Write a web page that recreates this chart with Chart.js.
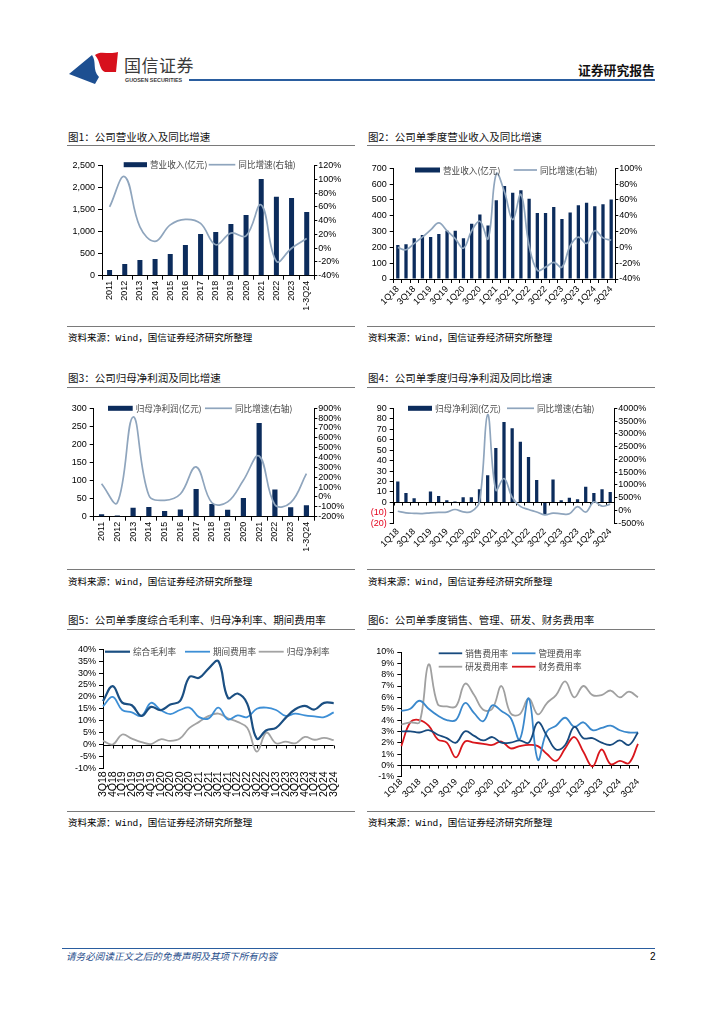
<!DOCTYPE html>
<html><head><meta charset="utf-8">
<script src="https://cdn.jsdelivr.net/npm/chart.js@4.4.1/dist/chart.umd.min.js"></script>
<style>
html,body{margin:0;padding:0;background:#fff;}
body{width:724px;height:1024px;position:relative;overflow:hidden;font-family:"Noto Sans CJK SC","Noto Sans",sans-serif;color:#000;}
.a{position:absolute;white-space:nowrap;}
.title{font-size:10.5px;line-height:14px;font-weight:400;color:#111;}
.src{font-size:9.5px;line-height:12px;}
.mono{font-family:"Liberation Mono","DejaVu Sans Mono",monospace;font-size:9.5px;}
.rule{position:absolute;height:1px;background:#7a7a7a;}
canvas{position:absolute;}
</style></head><body>

<!-- header -->
<svg class="a" style="left:66px;top:48px" width="60" height="40" viewBox="66 48 60 40">
  <path d="M69,74 L92,55 C97,62 92,70 99,77 L95,84 Z" fill="#1d4f91"/>
  <path d="M95,55 C101,50 108,55 118,52 L116,72 L105,72 C99,70 101,62 95,55 Z" fill="#d7101c"/>
</svg>
<div class="a" style="left:124px;top:54px;font-size:17px;line-height:22px;color:#3a3a3a;letter-spacing:0.5px;">国信证券</div>
<div class="a" style="left:125px;top:76.5px;font-size:5.4px;line-height:7px;color:#3a3a3a;font-family:'Liberation Sans',Arial,sans-serif;font-weight:bold;">GUOSEN SECURITIES</div>
<div class="a" style="left:189px;top:79px;width:466px;height:2px;background:#2a5d9f;"></div>
<div class="a" style="left:578px;top:61px;font-size:12.8px;line-height:18px;font-weight:bold;color:#111;">证券研究报告</div>

<!-- titles & rules -->
<div class="a title" style="left:68px;top:129.5px;">图1：公司营业收入及同比增速</div>
<div class="a title" style="left:368px;top:129.5px;">图2：公司单季度营业收入及同比增速</div>
<div class="rule" style="left:67px;top:145px;width:288px;"></div>
<div class="rule" style="left:367px;top:145px;width:288px;"></div>
<div class="rule" style="left:67px;top:326px;width:288px;"></div>
<div class="rule" style="left:367px;top:326px;width:288px;"></div>
<div class="a src" style="left:68px;top:331px;">资料来源：<span class="mono">Wind</span>，国信证券经济研究所整理</div>
<div class="a src" style="left:368px;top:331px;">资料来源：<span class="mono">Wind</span>，国信证券经济研究所整理</div>

<div class="a title" style="left:68px;top:370.5px;">图3：公司归母净利润及同比增速</div>
<div class="a title" style="left:368px;top:370.5px;">图4：公司单季度归母净利润及同比增速</div>
<div class="rule" style="left:67px;top:387px;width:288px;"></div>
<div class="rule" style="left:367px;top:387px;width:288px;"></div>
<div class="rule" style="left:67px;top:568.5px;width:288px;"></div>
<div class="rule" style="left:367px;top:568.5px;width:288px;"></div>
<div class="a src" style="left:68px;top:574.5px;">资料来源：<span class="mono">Wind</span>，国信证券经济研究所整理</div>
<div class="a src" style="left:368px;top:574.5px;">资料来源：<span class="mono">Wind</span>，国信证券经济研究所整理</div>

<div class="a title" style="left:68px;top:613px;">图5：公司单季度综合毛利率、归母净利率、期间费用率</div>
<div class="a title" style="left:368px;top:613px;">图6：公司单季度销售、管理、研发、财务费用率</div>
<div class="rule" style="left:67px;top:629px;width:288px;"></div>
<div class="rule" style="left:367px;top:629px;width:288px;"></div>
<div class="rule" style="left:67px;top:811px;width:288px;"></div>
<div class="rule" style="left:367px;top:811px;width:288px;"></div>
<div class="a src" style="left:68px;top:816px;">资料来源：<span class="mono">Wind</span>，国信证券经济研究所整理</div>
<div class="a src" style="left:368px;top:816px;">资料来源：<span class="mono">Wind</span>，国信证券经济研究所整理</div>

<!-- charts -->
<canvas id="c1" width="298" height="170" style="left:62px;top:150px;width:298px;height:170px"></canvas>
<canvas id="c2" width="298" height="170" style="left:362px;top:150px;width:298px;height:170px"></canvas>
<canvas id="c3" width="298" height="170" style="left:62px;top:392px;width:298px;height:170px"></canvas>
<canvas id="c4" width="298" height="170" style="left:362px;top:392px;width:298px;height:170px"></canvas>
<canvas id="c5" width="298" height="172" style="left:62px;top:635px;width:298px;height:172px"></canvas>
<canvas id="c6" width="298" height="172" style="left:362px;top:635px;width:298px;height:172px"></canvas>

<!-- footer -->
<div class="a" style="left:62px;top:948px;width:593px;height:1px;background:#2a5d9f;"></div>
<div class="a" style="left:66px;top:950px;font-size:9.6px;line-height:13px;font-style:italic;color:#1f4e8c;">请务必阅读正文之后的免责声明及其项下所有内容</div>
<div class="a" style="left:650px;top:950px;font-size:10px;line-height:13px;font-family:'Liberation Sans',Arial,sans-serif;">2</div>

<script>
// ---------------- DATA ----------------
const years = ['2011','2012','2013','2014','2015','2016','2017','2018','2019','2020','2021','2022','2023','1-3Q24'];
const revenueAnnual = [128, 265, 356, 379, 492, 697, 947, 992, 1174, 1379, 2197, 1795, 1765, 1447];
const revenueAnnualYoY = [60, 104, 31, 10, 34, 42, 36, 5, 22, 18, 63, -19, 0, 14];

const quarters27 = ['1Q18','2Q18','3Q18','4Q18','1Q19','2Q19','3Q19','4Q19','1Q20','2Q20','3Q20','4Q20',
  '1Q21','2Q21','3Q21','4Q21','1Q22','2Q22','3Q22','4Q22','1Q23','2Q23','3Q23','4Q23','1Q24','2Q24','3Q24'];
const revenueQuarterly = [215, 220, 258, 278, 265, 285, 305, 305, 258, 350, 408, 338, 498, 588, 546, 561,
  507, 417, 417, 456, 379, 421, 466, 482, 460, 473, 503];
const revenueQuarterlyYoY = [0, -3, 5, 13, 22, 31, 21, 11, -1, 21, 33, 11, 93, 70, 35, 67,
  2, -29, -25, -19, -25, 2, 13, 5, 21, 12, 9];

const netProfitAnnual = [7, 3, 25, 27, 16, 20, 77, 35, 19, 52, 259, 75, 26, 32];
const netProfitAnnualYoY = [135, -58, 812, 17, -34, 30, 305, -58, -50, 170, 416, -78, -58, 237];

const netProfitQuarterly = [20, 9, 4, 0.3, 10.5, 6, 2, 0.8, 5, 5, 12.5, 26, 52, 77, 71, 58,
  43.5, 21.5, -12, 22, 2, 4.5, 3, 15, 9, 12.5, 10];
const netProfitQuarterlyYoY = [-30, -90, -110, -120, -90, -70, -60, 40, -50, -40, 350, 3750, 800, 1250, 520, 160,
  40, -60, -170, -100, -130, -130, 150, -60, 340, 170, 250];

const quarters25 = ['3Q18','4Q18','1Q19','2Q19','3Q19','4Q19','1Q20','2Q20','3Q20','4Q20','1Q21','2Q21','3Q21',
  '4Q21','1Q22','2Q22','3Q22','4Q22','1Q23','2Q23','3Q23','4Q23','1Q24','2Q24','3Q24'];
const grossMargin = [18.2, 24.5, 17.6, 16.5, 12, 15.8, 14.4, 16.8, 18.2, 28.4, 28, 32, 35,
  19.6, 21.4, 17.2, 2.5, 6, 7, 11.2, 14.8, 16.2, 14.7, 17.5, 17.4];
const expenseRatio = [16, 20, 14.5, 13.5, 12, 17.5, 14.5, 12.8, 14.5, 15.5, 11.5, 11, 15.5,
  10.5, 12.2, 11.5, 15, 15.5, 14.5, 12, 13, 12.2, 11.8, 11.5, 13.5];
const netMargin = [1.5, 0, 4.2, 2.5, 1, 0.2, 2.2, 1.5, 2.5, 7, 9.5, 12, 13,
  11, 9.5, 7, -3, 5, 0.5, 1.2, 0.5, 3.2, 2, 2.8, 1.8];

const sellingRatio = [3.0, 3.0, 2.9, 3.1, 2.7, 2.4, 2.0, 3.0, 2.6, 2.2, 2.5, 2.0, 2.0, 2.2, 2.0, 3.8,
  2.6, 1.4, 1.8, 3.4, 2.4, 2.4, 2.0, 1.8, 2.2, 1.8, 2.9];
const adminRatio = [4.8, 5.0, 5.7, 5.0, 4.4, 4.0, 4.0, 5.5, 4.6, 3.9, 5.3, 4.8, 4.2, 2.3, 5.9, 0.5,
  3.0, 3.5, 4.2, 3.4, 3.8, 3.1, 3.3, 3.5, 3.1, 2.9, 2.9];
const rdRatio = [3.6, 3.8, 3.8, 8.9, 5.4, 5.2, 5.2, 7.2, 6.2, 4.9, 5.0, 7.0, 4.6, 4.5, 5.9, 4.5,
  5.5, 6.2, 7.4, 6.0, 7.0, 6.2, 6.2, 6.6, 6.0, 6.5, 6.0];
const financeRatio = [1.7, 3.8, 4.0, 3.5, 2.3, 2.0, 0.7, 2.1, 2.0, 1.9, 1.8, 2.1, 1.5, 1.7, 1.8, 1.7,
  1.0, 0.4, 1.5, 2.5, 1.2, -0.1, 1.4, 0.1, 0.4, 0.2, 1.9];

// ---------------- STYLE ----------------
const BAR = '#0c2c5c';
const LINE = '#8fa5bd';
Chart.defaults.font.family = "'Liberation Sans', Arial, sans-serif";
Chart.defaults.font.size = 9;
Chart.defaults.color = '#000';
Chart.defaults.animation = false;
Chart.defaults.plugins.legend.display = false;
Chart.defaults.plugins.tooltip.enabled = false;
Chart.defaults.responsive = false;

const pct = v => v + '%';

const insideLegend = {
  id: 'insideLegend',
  afterDatasetsDraw(chart, args, opts) {
    if (!opts || !opts.items) return;
    const ctx = chart.ctx;
    ctx.save();
    ctx.font = "8.6px 'Noto Sans CJK SC', sans-serif";
    ctx.textBaseline = 'middle';
    chart.data.datasets.forEach((ds, i) => {
      const it = opts.items[i]; if (!it) return;
      const [x, y, w] = it;
      if (ds.type === 'bar') {
        ctx.fillStyle = ds.backgroundColor;
        ctx.fillRect(x, y - 2.5, w, 5);
      } else {
        ctx.strokeStyle = ds.borderColor;
        ctx.lineWidth = ds.borderWidth;
        ctx.beginPath(); ctx.moveTo(x, y); ctx.lineTo(x + w, y); ctx.stroke();
      }
      ctx.fillStyle = '#444';
      ctx.fillText(ds.label, x + w + 3, y + 0.5);
    });
    ctx.restore();
  }
};

const zeroAxis = {
  id: 'zeroAxis',
  beforeDatasetsDraw(chart, args, opts) {
    if (!opts || !opts.enabled) return;
    const xs = chart.scales.x, ys = chart.scales.y;
    const ca = chart.chartArea;
    const py = Math.round(ys.getPixelForValue(0)) + 0.5;
    const ctx = chart.ctx;
    ctx.save();
    ctx.strokeStyle = '#000'; ctx.lineWidth = 1;
    ctx.beginPath();
    ctx.moveTo(ca.left, py); ctx.lineTo(ca.right, py);
    const n = chart.data.labels.length;
    const half = (xs.getPixelForValue(1) - xs.getPixelForValue(0)) / 2;
    for (let i = 0; i <= n; i++) {
      let px;
      if (opts.between) px = xs.getPixelForValue(Math.min(i, n - 1)) + (i === n ? half : -half);
      else { if (i === n) break; px = xs.getPixelForValue(i); }
      px = Math.round(px) + 0.5;
      ctx.moveTo(px, py); ctx.lineTo(px, py + (opts.len || 3));
    }
    ctx.stroke();
    ctx.restore();
  }
};
Chart.register(insideLegend, zeroAxis);

function catAxis(o) {
  const ticks = { autoSkip: false, minRotation: o.rot, maxRotation: o.rot, padding: o.pad, color: '#000',
    font: { size: o.fs || 9 } };
  if (o.every2) ticks.callback = function (v, i) { return i % 2 === 0 ? this.getLabelForValue(v) : ''; };
  return {
    type: 'category', offset: o.offset,
    border: { display: o.border, color: '#000', width: 1 },
    grid: { display: true, drawOnChartArea: false, drawTicks: o.border, tickLength: 4, color: '#000', offset: o.offset },
    ticks,
    afterFit: s => { s.height = o.h; }
  };
}
function valAxis(o) {
  return {
    type: 'linear', position: o.pos, min: o.min, max: o.max,
    border: { display: true, color: '#000', width: 1 },
    grid: { drawOnChartArea: false, drawTicks: true, tickLength: o.tl || 4, color: '#000' },
    ticks: { stepSize: o.step, maxTicksLimit: 30, autoSkip: false, padding: o.pad === undefined ? 3 : o.pad,
      color: o.color || '#000', callback: o.fmt || (v => v), font: { size: 9 } },
    afterFit: s => { s.width = o.w; }
  };
}
function barDs(label, data, bp) {
  return { type: 'bar', label, data, backgroundColor: BAR, yAxisID: 'y', barPercentage: bp, categoryPercentage: 1, order: 2 };
}
function lineDs(label, data, axis) {
  return { type: 'line', label, data, borderColor: LINE, borderWidth: 1.7, pointRadius: 0, tension: 0.4,
    yAxisID: axis || 'y1', order: 0 };
}

// Chart 1
new Chart(document.getElementById('c1'), {
  type: 'bar',
  data: { labels: years, datasets: [barDs('营业收入(亿元)', revenueAnnual, 0.33), lineDs('同比增速(右轴)', revenueAnnualYoY)] },
  options: {
    layout: { padding: { top: 15.7, left: 0, right: 0, bottom: 0 } },
    scales: {
      x: catAxis({ rot: 90, pad: 1, h: 44.3, offset: true, border: true }),
      y: valAxis({ pos: 'left', min: 0, max: 2500, step: 500, w: 40, fmt: v => v.toLocaleString('en-US') }),
      y1: valAxis({ pos: 'right', min: -40, max: 120, step: 20, w: 45.7, tl: 3, pad: 1, fmt: pct })
    },
    plugins: { insideLegend: { items: [[61.7, 14.7, 23.3], [146.7, 14.7, 26.6]] } }
  }
});

// Chart 2
new Chart(document.getElementById('c2'), {
  type: 'bar',
  data: { labels: quarters27, datasets: [barDs('营业收入(亿元)', revenueQuarterly, 0.4), lineDs('同比增速(右轴)', revenueQuarterlyYoY)] },
  options: {
    layout: { padding: { top: 18.3, left: 0, right: 0, bottom: 0 } },
    scales: {
      x: catAxis({ rot: 45, pad: 1, h: 41, offset: true, border: true, every2: true }),
      y: valAxis({ pos: 'left', min: 0, max: 700, step: 100, w: 31.7 }),
      y1: valAxis({ pos: 'right', min: -40, max: 100, step: 20, w: 44.7, tl: 3, pad: 1, fmt: pct })
    },
    plugins: { insideLegend: { items: [[53, 20, 25], [151.7, 20, 23.3]] } }
  }
});

// Chart 3
new Chart(document.getElementById('c3'), {
  type: 'bar',
  data: { labels: years, datasets: [barDs('归母净利润(亿元)', netProfitAnnual, 0.33), lineDs('同比增速(右轴)', netProfitAnnualYoY)] },
  options: {
    layout: { padding: { top: 16.3, left: 0, right: 0, bottom: 0 } },
    scales: {
      x: catAxis({ rot: 90, pad: 1, h: 45.3, offset: true, border: true }),
      y: valAxis({ pos: 'left', min: 0, max: 300, step: 50, w: 31.7 }),
      y1: valAxis({ pos: 'right', min: -200, max: 900, step: 100, w: 45.7, tl: 3, pad: 1, fmt: pct })
    },
    plugins: { insideLegend: { items: [[46, 16.3, 24.7], [143, 16.3, 27]] } }
  }
});

// Chart 4
new Chart(document.getElementById('c4'), {
  type: 'bar',
  data: { labels: quarters27, datasets: [barDs('归母净利润(亿元)', netProfitQuarterly, 0.4), lineDs('同比增速(右轴)', netProfitQuarterlyYoY)] },
  options: {
    layout: { padding: { top: 16.3, left: 0, right: 0, bottom: 0 } },
    scales: {
      x: catAxis({ rot: 45, pad: 3, h: 38.7, offset: true, border: false, every2: true }),
      y: valAxis({ pos: 'left', min: -20, max: 90, step: 10, w: 31.7,
        fmt: v => v < 0 ? '(' + (-v) + ')' : v,
        color: c => (c.tick && c.tick.value < 0) ? '#e3001b' : '#000' }),
      y1: valAxis({ pos: 'right', min: -500, max: 4000, step: 500, w: 45.7, tl: 3, pad: 1, fmt: pct })
    },
    plugins: { insideLegend: { items: [[46, 16.3, 24], [145, 16.3, 27]] }, zeroAxis: { enabled: true, between: true, len: 3 } }
  }
});

// Chart 5
new Chart(document.getElementById('c5'), {
  type: 'line',
  data: { labels: quarters25, datasets: [
    { label: '综合毛利率', data: grossMargin, borderColor: '#1b4f82', borderWidth: 2.2, pointRadius: 0, tension: 0.4 },
    { label: '期间费用率', data: expenseRatio, borderColor: '#3d8fd6', borderWidth: 1.8, pointRadius: 0, tension: 0.4 },
    { label: '归母净利率', data: netMargin, borderColor: '#a3a3a3', borderWidth: 1.8, pointRadius: 0, tension: 0.4 }
  ] },
  options: {
    layout: { padding: { top: 14.3, left: 0, right: 26.3, bottom: 0 } },
    scales: {
      x: catAxis({ rot: 90, pad: 3, h: 38.7, offset: false, border: false, fs: 10.5 }),
      y: valAxis({ pos: 'left', min: -10, max: 40, step: 5, w: 41, fmt: pct })
    },
    plugins: { insideLegend: { items: [[43, 16.7, 25], [123, 16.7, 25], [196.7, 16.7, 25]] }, zeroAxis: { enabled: true, between: false, len: 3 } }
  }
});

// Chart 6
new Chart(document.getElementById('c6'), {
  type: 'line',
  data: { labels: quarters27, datasets: [
    { label: '销售费用率', data: sellingRatio, borderColor: '#174a7e', borderWidth: 1.8, pointRadius: 0, tension: 0.4 },
    { label: '管理费用率', data: adminRatio, borderColor: '#3a88cc', borderWidth: 1.8, pointRadius: 0, tension: 0.4 },
    { label: '研发费用率', data: rdRatio, borderColor: '#a0a0a0', borderWidth: 1.8, pointRadius: 0, tension: 0.4 },
    { label: '财务费用率', data: financeRatio, borderColor: '#d9161c', borderWidth: 1.8, pointRadius: 0, tension: 0.4 }
  ] },
  options: {
    layout: { padding: { top: 17, left: 0, right: 22, bottom: 0 } },
    scales: {
      x: catAxis({ rot: 45, pad: 0, h: 30.3, offset: false, border: false, every2: true }),
      y: valAxis({ pos: 'left', min: -1, max: 10, step: 1, w: 39.3, fmt: pct })
    },
    plugins: { insideLegend: { items: [[76.7, 18.3, 23.5], [150, 18.3, 23.5], [76.7, 31.7, 23.5], [150, 31.7, 23.5]] },
      zeroAxis: { enabled: true, between: false, len: 3 } }
  }
});
</script>
</body></html>
